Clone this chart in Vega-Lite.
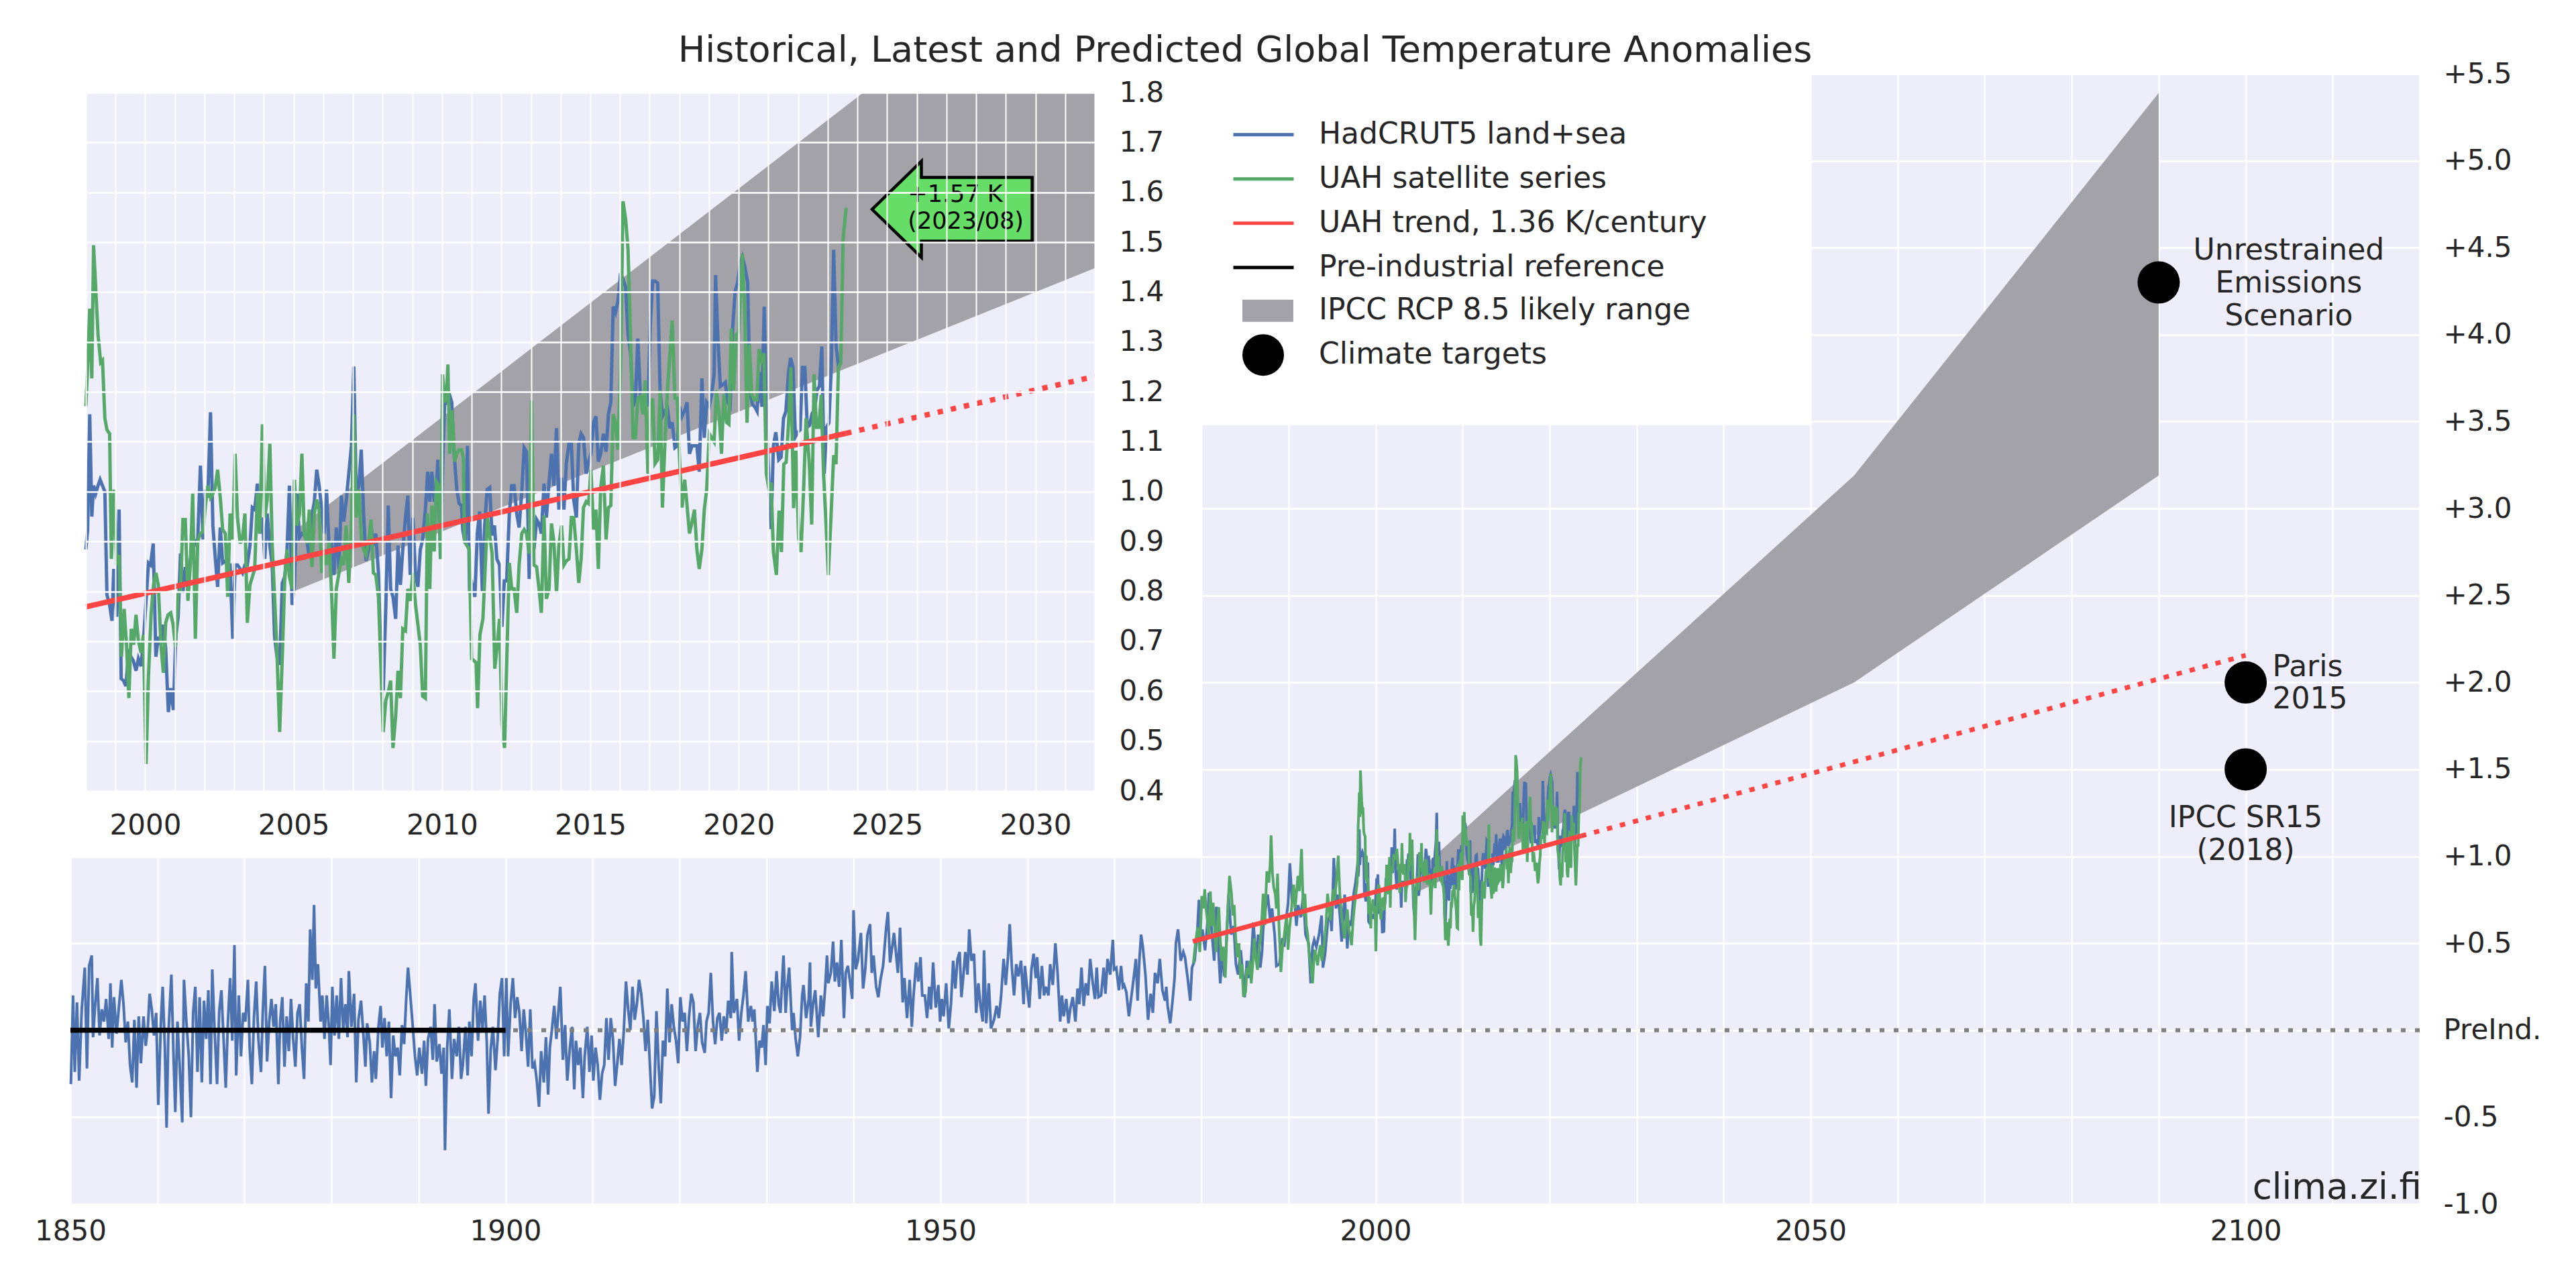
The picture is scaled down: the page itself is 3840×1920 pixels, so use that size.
{
"$schema":"https://vega.github.io/schema/vega-lite/v6.json",
"width":3502,"height":1685,
"autosize":{"type":"none"},
"padding":{"left":105,"top":110,"right":233,"bottom":125},
"background":"white",
"title":{"text":"Historical, Latest and Predicted Global Temperature Anomalies","fontSize":54,"font":"DejaVu Sans","fontWeight":"normal","color":"#262626","anchor":"middle","frame":"group","offset":0,"dy":57,"baseline":"alphabetic"},
"config":{
"view":{"fill":"#EEEEFB","stroke":null},
"font":"DejaVu Sans",
"axis":{"labelFont":"DejaVu Sans","labelFontSize":42,"labelColor":"#262626","domain":false,"ticks":false,"gridColor":"white","gridOpacity":1,"labelOverlap":false,"labelFlush":false}
},
"datasets":{
"had":[
{"t":1850.05,"v":-0.31},{"t":1850.3,"v":0.2},{"t":1850.5,"v":-0.24},{"t":1850.75,"v":0.16},
{"t":1851.0,"v":-0.29},{"t":1851.3,"v":0.12},{"t":1851.65,"v":0.36},{"t":1851.9,"v":-0.22},
{"t":1852.15,"v":0.37},{"t":1852.45,"v":0.43},{"t":1852.6,"v":-0.04},{"t":1852.85,"v":0.15},
{"t":1853.1,"v":0.3},{"t":1853.35,"v":-0.03},{"t":1853.6,"v":0.12},{"t":1853.85,"v":0.05},
{"t":1854.1,"v":0.18},{"t":1854.4,"v":-0.05},{"t":1854.6,"v":0.27},{"t":1854.8,"v":-0.1},
{"t":1855.0,"v":0.19},{"t":1855.3,"v":-0.02},{"t":1855.6,"v":0.15},{"t":1855.85,"v":0.29},
{"t":1856.1,"v":0.15},{"t":1856.35,"v":-0.07},{"t":1856.6,"v":0.05},{"t":1856.85,"v":-0.2},
{"t":1857.1,"v":-0.3},{"t":1857.35,"v":0.06},{"t":1857.6,"v":-0.33},{"t":1857.85,"v":0.08},
{"t":1858.1,"v":-0.19},{"t":1858.4,"v":0.08},{"t":1858.65,"v":-0.09},{"t":1858.9,"v":0.02},
{"t":1859.1,"v":0.21},{"t":1859.35,"v":0.12},{"t":1859.6,"v":-0.03},{"t":1859.85,"v":0.1},
{"t":1860.1,"v":-0.43},{"t":1860.4,"v":0.05},{"t":1860.6,"v":0.25},{"t":1860.85,"v":-0.1},
{"t":1861.05,"v":-0.56},{"t":1861.25,"v":-0.03},{"t":1861.6,"v":0.32},{"t":1861.85,"v":-0.15},
{"t":1862.05,"v":-0.47},{"t":1862.3,"v":0.05},{"t":1862.55,"v":-0.2},{"t":1862.85,"v":-0.53},
{"t":1863.05,"v":0.29},{"t":1863.3,"v":0.07},{"t":1863.6,"v":-0.15},{"t":1863.85,"v":-0.5},
{"t":1864.1,"v":0.1},{"t":1864.35,"v":0.25},{"t":1864.6,"v":-0.24},{"t":1864.85,"v":0.19},
{"t":1865.1,"v":-0.3},{"t":1865.35,"v":0.17},{"t":1865.6,"v":-0.05},{"t":1865.85,"v":0.23},
{"t":1866.1,"v":-0.31},{"t":1866.3,"v":0.35},{"t":1866.55,"v":0.02},{"t":1866.85,"v":-0.31},
{"t":1867.1,"v":0.11},{"t":1867.35,"v":0.23},{"t":1867.6,"v":-0.05},{"t":1867.85,"v":-0.33},
{"t":1868.1,"v":0.05},{"t":1868.35,"v":0.3},{"t":1868.6,"v":-0.06},{"t":1868.85,"v":0.49},
{"t":1869.05,"v":-0.26},{"t":1869.35,"v":0.2},{"t":1869.6,"v":-0.15},{"t":1869.85,"v":0.1},
{"t":1870.1,"v":0.05},{"t":1870.4,"v":0.29},{"t":1870.6,"v":-0.1},{"t":1870.85,"v":-0.31},
{"t":1871.1,"v":0.08},{"t":1871.35,"v":0.28},{"t":1871.6,"v":-0.05},{"t":1871.9,"v":-0.24},
{"t":1872.1,"v":0.1},{"t":1872.35,"v":0.37},{"t":1872.6,"v":-0.18},{"t":1872.85,"v":0.05},
{"t":1873.1,"v":0.18},{"t":1873.35,"v":0.02},{"t":1873.6,"v":0.15},{"t":1873.9,"v":-0.31},
{"t":1874.1,"v":0.05},{"t":1874.35,"v":0.19},{"t":1874.6,"v":-0.21},{"t":1874.85,"v":0.08},
{"t":1875.1,"v":-0.12},{"t":1875.35,"v":0.18},{"t":1875.6,"v":-0.05},{"t":1875.85,"v":-0.21},
{"t":1876.1,"v":0.1},{"t":1876.35,"v":0.15},{"t":1876.6,"v":-0.1},{"t":1876.85,"v":-0.28},
{"t":1877.1,"v":0.27},{"t":1877.35,"v":0.05},{"t":1877.55,"v":0.58},{"t":1877.8,"v":0.29},
{"t":1878.0,"v":0.72},{"t":1878.2,"v":0.24},{"t":1878.45,"v":0.38},{"t":1878.75,"v":0.05},{"t":1878.95,"v":0.2},
{"t":1879.2,"v":-0.05},{"t":1879.45,"v":0.2},{"t":1879.7,"v":0.02},{"t":1879.9,"v":-0.2},
{"t":1880.1,"v":0.25},{"t":1880.35,"v":-0.03},{"t":1880.6,"v":0.2},{"t":1880.85,"v":-0.05},
{"t":1881.1,"v":0.3},{"t":1881.35,"v":0.0},{"t":1881.6,"v":0.15},{"t":1881.85,"v":-0.04},
{"t":1882.0,"v":0.34},{"t":1882.3,"v":0.02},{"t":1882.6,"v":0.21},{"t":1882.85,"v":-0.3},
{"t":1883.1,"v":0.06},{"t":1883.4,"v":0.17},{"t":1883.7,"v":-0.05},{"t":1883.9,"v":-0.21},
{"t":1884.1,"v":0.04},{"t":1884.4,"v":-0.07},{"t":1884.65,"v":-0.3},{"t":1884.9,"v":-0.12},
{"t":1885.1,"v":-0.28},{"t":1885.4,"v":0.02},{"t":1885.65,"v":0.14},{"t":1885.85,"v":-0.1},
{"t":1886.1,"v":0.07},{"t":1886.35,"v":-0.15},{"t":1886.6,"v":0.05},{"t":1886.85,"v":-0.39},
{"t":1887.1,"v":-0.03},{"t":1887.35,"v":-0.15},{"t":1887.6,"v":-0.1},{"t":1887.85,"v":-0.26},
{"t":1888.1,"v":0.03},{"t":1888.35,"v":-0.08},{"t":1888.6,"v":0.19},{"t":1888.8,"v":0.36},
{"t":1889.0,"v":0.24},{"t":1889.3,"v":0.05},{"t":1889.6,"v":-0.15},{"t":1889.85,"v":-0.26},
{"t":1890.1,"v":-0.1},{"t":1890.4,"v":-0.25},{"t":1890.65,"v":-0.06},{"t":1890.85,"v":-0.32},
{"t":1891.1,"v":-0.05},{"t":1891.4,"v":0.02},{"t":1891.65,"v":-0.17},{"t":1891.85,"v":0.15},
{"t":1892.1,"v":-0.18},{"t":1892.4,"v":-0.08},{"t":1892.65,"v":-0.25},{"t":1892.9,"v":-0.1},
{"t":1893.05,"v":-0.69},{"t":1893.3,"v":-0.1},{"t":1893.55,"v":0.12},{"t":1893.85,"v":-0.28},
{"t":1894.1,"v":-0.05},{"t":1894.4,"v":-0.15},{"t":1894.65,"v":0.02},{"t":1894.9,"v":-0.28},
{"t":1895.1,"v":-0.2},{"t":1895.4,"v":0.02},{"t":1895.65,"v":-0.26},{"t":1895.85,"v":0.05},
{"t":1896.1,"v":-0.15},{"t":1896.35,"v":0.18},{"t":1896.55,"v":0.27},{"t":1896.85,"v":-0.06},
{"t":1897.1,"v":0.17},{"t":1897.35,"v":0.0},{"t":1897.6,"v":0.2},{"t":1897.85,"v":-0.07},
{"t":1898.05,"v":-0.48},{"t":1898.3,"v":-0.11},{"t":1898.55,"v":0.02},{"t":1898.85,"v":-0.23},
{"t":1899.1,"v":-0.05},{"t":1899.35,"v":0.21},{"t":1899.6,"v":0.3},{"t":1899.85,"v":-0.15},
{"t":1900.1,"v":0.3},{"t":1900.3,"v":-0.15},{"t":1900.6,"v":0.16},{"t":1900.85,"v":0.3},
{"t":1901.1,"v":0.07},{"t":1901.35,"v":0.19},{"t":1901.6,"v":0.1},{"t":1901.85,"v":-0.12},
{"t":1902.1,"v":0.12},{"t":1902.35,"v":-0.02},{"t":1902.6,"v":-0.21},{"t":1902.85,"v":0.12},
{"t":1903.1,"v":-0.22},{"t":1903.35,"v":-0.19},{"t":1903.6,"v":-0.29},{"t":1903.85,"v":-0.44},
{"t":1904.1,"v":-0.12},{"t":1904.4,"v":-0.3},{"t":1904.65,"v":-0.04},{"t":1904.9,"v":-0.37},
{"t":1905.1,"v":-0.1},{"t":1905.35,"v":0.01},{"t":1905.6,"v":0.14},{"t":1905.85,"v":-0.05},
{"t":1906.1,"v":0.12},{"t":1906.3,"v":0.25},{"t":1906.6,"v":-0.17},{"t":1906.85,"v":0.03},
{"t":1907.1,"v":-0.29},{"t":1907.4,"v":-0.1},{"t":1907.65,"v":0.02},{"t":1907.9,"v":-0.34},
{"t":1908.1,"v":-0.06},{"t":1908.35,"v":-0.2},{"t":1908.6,"v":-0.1},{"t":1908.9,"v":-0.39},
{"t":1909.1,"v":-0.15},{"t":1909.4,"v":0.02},{"t":1909.65,"v":-0.24},{"t":1909.9,"v":-0.03},
{"t":1910.1,"v":-0.29},{"t":1910.35,"v":-0.1},{"t":1910.6,"v":-0.2},{"t":1910.85,"v":-0.4},
{"t":1911.1,"v":-0.25},{"t":1911.35,"v":-0.2},{"t":1911.6,"v":0.07},{"t":1911.85,"v":-0.17},
{"t":1912.1,"v":0.07},{"t":1912.35,"v":-0.05},{"t":1912.6,"v":-0.32},{"t":1912.85,"v":-0.19},
{"t":1913.1,"v":-0.05},{"t":1913.35,"v":-0.2},{"t":1913.6,"v":0.0},{"t":1913.85,"v":0.28},
{"t":1914.1,"v":0.12},{"t":1914.35,"v":0.0},{"t":1914.6,"v":0.25},{"t":1914.85,"v":0.06},
{"t":1915.1,"v":0.15},{"t":1915.35,"v":0.29},{"t":1915.6,"v":0.21},{"t":1915.85,"v":0.07},
{"t":1916.1,"v":-0.12},{"t":1916.35,"v":0.06},{"t":1916.6,"v":-0.2},{"t":1916.85,"v":-0.45},
{"t":1917.1,"v":-0.38},{"t":1917.35,"v":0.11},{"t":1917.6,"v":-0.2},{"t":1917.85,"v":-0.42},
{"t":1918.1,"v":-0.06},{"t":1918.35,"v":-0.15},{"t":1918.6,"v":0.24},{"t":1918.85,"v":-0.07},
{"t":1919.1,"v":0.15},{"t":1919.35,"v":0.02},{"t":1919.6,"v":-0.06},{"t":1919.85,"v":-0.19},
{"t":1920.1,"v":0.19},{"t":1920.35,"v":0.05},{"t":1920.6,"v":0.1},{"t":1920.85,"v":-0.12},
{"t":1921.1,"v":0.08},{"t":1921.35,"v":0.21},{"t":1921.6,"v":0.16},{"t":1921.85,"v":-0.12},
{"t":1922.1,"v":0.03},{"t":1922.35,"v":0.1},{"t":1922.6,"v":-0.07},{"t":1922.9,"v":-0.13},
{"t":1923.1,"v":0.05},{"t":1923.35,"v":0.1},{"t":1923.6,"v":0.33},{"t":1923.85,"v":0.05},
{"t":1924.1,"v":-0.08},{"t":1924.35,"v":0.07},{"t":1924.6,"v":0.1},{"t":1924.85,"v":-0.06},
{"t":1925.1,"v":0.08},{"t":1925.35,"v":-0.02},{"t":1925.6,"v":0.17},{"t":1925.9,"v":0.07},
{"t":1926.0,"v":0.45},{"t":1926.25,"v":0.1},{"t":1926.6,"v":0.18},{"t":1926.85,"v":-0.06},
{"t":1927.1,"v":0.1},{"t":1927.35,"v":0.2},{"t":1927.6,"v":0.34},{"t":1927.9,"v":0.05},
{"t":1928.2,"v":0.14},{"t":1928.4,"v":0.05},{"t":1928.6,"v":0.12},{"t":1928.95,"v":-0.24},
{"t":1929.2,"v":-0.06},{"t":1929.45,"v":-0.1},{"t":1929.65,"v":0.03},{"t":1929.9,"v":-0.2},
{"t":1930.1,"v":0.14},{"t":1930.35,"v":0.04},{"t":1930.6,"v":0.28},{"t":1930.9,"v":0.11},
{"t":1931.15,"v":0.34},{"t":1931.4,"v":0.15},{"t":1931.6,"v":0.1},{"t":1931.95,"v":0.43},
{"t":1932.2,"v":0.1},{"t":1932.35,"v":0.23},{"t":1932.6,"v":0.36},{"t":1932.95,"v":0.0},
{"t":1933.1,"v":0.1},{"t":1933.35,"v":-0.05},{"t":1933.6,"v":-0.15},{"t":1933.85,"v":-0.04},
{"t":1934.1,"v":0.2},{"t":1934.25,"v":0.26},{"t":1934.55,"v":0.07},{"t":1934.85,"v":0.18},
{"t":1935.0,"v":0.39},{"t":1935.1,"v":0.02},{"t":1935.35,"v":0.15},{"t":1935.6,"v":0.23},{"t":1935.95,"v":-0.04},
{"t":1936.25,"v":0.2},{"t":1936.5,"v":0.08},{"t":1936.75,"v":0.25},{"t":1936.95,"v":0.43},
{"t":1937.1,"v":0.27},{"t":1937.4,"v":0.33},{"t":1937.65,"v":0.51},{"t":1937.85,"v":0.28},
{"t":1938.1,"v":0.39},{"t":1938.35,"v":0.25},{"t":1938.6,"v":0.52},{"t":1938.9,"v":0.07},
{"t":1939.1,"v":0.33},{"t":1939.35,"v":0.37},{"t":1939.6,"v":0.28},{"t":1939.85,"v":0.18},
{"t":1940.0,"v":0.69},{"t":1940.25,"v":0.35},{"t":1940.5,"v":0.4},{"t":1940.85,"v":0.56},
{"t":1941.1,"v":0.24},{"t":1941.35,"v":0.35},{"t":1941.6,"v":0.55},{"t":1941.9,"v":0.61},
{"t":1942.1,"v":0.33},{"t":1942.3,"v":0.43},{"t":1942.6,"v":0.25},{"t":1942.85,"v":0.19},
{"t":1943.1,"v":0.29},{"t":1943.4,"v":0.37},{"t":1943.75,"v":0.59},{"t":1943.95,"v":0.68},
{"t":1944.2,"v":0.39},{"t":1944.45,"v":0.48},{"t":1944.65,"v":0.56},{"t":1944.85,"v":0.46},
{"t":1945.1,"v":0.33},{"t":1945.35,"v":0.59},{"t":1945.65,"v":0.16},{"t":1945.85,"v":0.3},
{"t":1946.15,"v":0.07},{"t":1946.45,"v":0.29},{"t":1946.7,"v":0.02},{"t":1946.9,"v":0.2},
{"t":1947.2,"v":0.39},{"t":1947.45,"v":0.28},{"t":1947.7,"v":0.42},{"t":1947.9,"v":0.2},
{"t":1948.2,"v":0.2},{"t":1948.45,"v":0.07},{"t":1948.7,"v":0.25},{"t":1948.9,"v":0.12},
{"t":1949.15,"v":0.39},{"t":1949.45,"v":0.13},{"t":1949.75,"v":0.26},{"t":1949.95,"v":0.05},
{"t":1950.15,"v":0.18},{"t":1950.35,"v":0.08},{"t":1950.65,"v":0.27},{"t":1950.95,"v":0.01},
{"t":1951.2,"v":0.15},{"t":1951.45,"v":0.4},{"t":1951.7,"v":0.24},{"t":1951.95,"v":0.41},
{"t":1952.2,"v":0.45},{"t":1952.4,"v":0.19},{"t":1952.6,"v":0.3},{"t":1952.85,"v":0.45},
{"t":1953.1,"v":0.32},{"t":1953.3,"v":0.58},{"t":1953.55,"v":0.4},{"t":1953.85,"v":0.44},
{"t":1954.1,"v":0.1},{"t":1954.35,"v":0.27},{"t":1954.6,"v":0.14},{"t":1954.85,"v":0.05},
{"t":1955.0,"v":0.46},{"t":1955.25,"v":0.04},{"t":1955.55,"v":0.27},{"t":1955.8,"v":0.01},
{"t":1956.15,"v":0.06},{"t":1956.45,"v":0.14},{"t":1956.7,"v":0.07},{"t":1956.95,"v":0.19},
{"t":1957.25,"v":0.41},{"t":1957.5,"v":0.26},{"t":1957.75,"v":0.42},{"t":1957.95,"v":0.61},
{"t":1958.2,"v":0.36},{"t":1958.45,"v":0.2},{"t":1958.7,"v":0.38},{"t":1958.95,"v":0.31},
{"t":1959.25,"v":0.4},{"t":1959.55,"v":0.15},{"t":1959.7,"v":0.37},{"t":1959.95,"v":0.24},
{"t":1960.2,"v":0.13},{"t":1960.45,"v":0.35},{"t":1960.7,"v":0.44},{"t":1960.95,"v":0.3},
{"t":1961.1,"v":0.42},{"t":1961.4,"v":0.18},{"t":1961.65,"v":0.37},{"t":1961.9,"v":0.2},
{"t":1962.1,"v":0.25},{"t":1962.4,"v":0.2},{"t":1962.6,"v":0.38},{"t":1962.9,"v":0.26},
{"t":1963.2,"v":0.5},{"t":1963.45,"v":0.33},{"t":1963.75,"v":0.05},{"t":1963.95,"v":0.2},
{"t":1964.15,"v":0.08},{"t":1964.45,"v":0.18},{"t":1964.7,"v":0.04},{"t":1964.9,"v":0.12},
{"t":1965.2,"v":0.19},{"t":1965.5,"v":0.05},{"t":1965.75,"v":0.24},{"t":1965.95,"v":0.15},
{"t":1966.2,"v":0.36},{"t":1966.45,"v":0.14},{"t":1966.7,"v":0.27},{"t":1966.95,"v":0.2},
{"t":1967.2,"v":0.41},{"t":1967.5,"v":0.27},{"t":1967.75,"v":0.18},{"t":1967.95,"v":0.36},
{"t":1968.15,"v":0.19},{"t":1968.45,"v":0.2},{"t":1968.75,"v":0.36},{"t":1968.95,"v":0.21},
{"t":1969.2,"v":0.41},{"t":1969.5,"v":0.32},{"t":1969.8,"v":0.52},{"t":1969.95,"v":0.35},
{"t":1970.2,"v":0.36},{"t":1970.5,"v":0.23},{"t":1970.75,"v":0.37},{"t":1970.95,"v":0.25},
{"t":1971.1,"v":0.26},{"t":1971.35,"v":0.22},{"t":1971.65,"v":0.08},{"t":1971.9,"v":0.18},
{"t":1972.2,"v":0.3},{"t":1972.45,"v":0.41},{"t":1972.65,"v":0.17},{"t":1972.85,"v":0.4},
{"t":1973.05,"v":0.55},{"t":1973.25,"v":0.48},{"t":1973.55,"v":0.32},{"t":1973.85,"v":0.06},
{"t":1974.15,"v":0.21},{"t":1974.4,"v":0.1},{"t":1974.65,"v":0.33},{"t":1974.95,"v":0.27},
{"t":1975.2,"v":0.41},{"t":1975.5,"v":0.23},{"t":1975.8,"v":0.17},{"t":1975.95,"v":0.25},
{"t":1976.1,"v":0.14},{"t":1976.4,"v":0.04},{"t":1976.65,"v":0.16},{"t":1976.9,"v":0.3},
{"t":1977.05,"v":0.5},{"t":1977.3,"v":0.58},{"t":1977.6,"v":0.4},{"t":1977.9,"v":0.45},
{"t":1978.1,"v":0.42},{"t":1978.4,"v":0.3},{"t":1978.7,"v":0.17},{"t":1978.9,"v":0.36},
{"t":1979.2,"v":0.4},{"t":1979.5,"v":0.56},{"t":1979.7,"v":0.75},{"t":1979.9,"v":0.52},
{"t":1980.1,"v":0.58},{"t":1980.4,"v":0.46},{"t":1980.65,"v":0.6},{"t":1980.85,"v":0.79},
{"t":1981.15,"v":0.58},{"t":1981.45,"v":0.4},{"t":1981.7,"v":0.71},{"t":1981.95,"v":0.45},
{"t":1982.15,"v":0.27},{"t":1982.4,"v":0.48},{"t":1982.6,"v":0.31},{"t":1982.85,"v":0.5},
{"t":1983.1,"v":0.78},{"t":1983.4,"v":0.55},{"t":1983.7,"v":0.6},{"t":1983.95,"v":0.38},
{"t":1984.2,"v":0.32},{"t":1984.5,"v":0.46},{"t":1984.75,"v":0.32},{"t":1984.95,"v":0.19},
{"t":1985.2,"v":0.4},{"t":1985.45,"v":0.3},{"t":1985.7,"v":0.4},{"t":1985.95,"v":0.62},
{"t":1986.3,"v":0.39},{"t":1986.5,"v":0.55},{"t":1986.75,"v":0.36},{"t":1986.95,"v":0.45},
{"t":1987.1,"v":0.6},{"t":1987.4,"v":0.72},{"t":1987.6,"v":0.78},{"t":1987.9,"v":0.63},
{"t":1988.1,"v":0.7},{"t":1988.4,"v":0.55},{"t":1988.6,"v":0.37},{"t":1988.95,"v":0.38},
{"t":1989.3,"v":0.53},{"t":1989.5,"v":0.48},{"t":1989.75,"v":0.65},{"t":1989.95,"v":0.73},
{"t":1990.15,"v":0.96},{"t":1990.4,"v":0.74},{"t":1990.6,"v":0.81},{"t":1990.9,"v":0.6},
{"t":1991.1,"v":0.72},{"t":1991.4,"v":0.65},{"t":1991.7,"v":0.78},{"t":1991.95,"v":0.55},
{"t":1992.3,"v":0.5},{"t":1992.55,"v":0.27},{"t":1992.75,"v":0.48},{"t":1992.95,"v":0.52},
{"t":1993.2,"v":0.48},{"t":1993.5,"v":0.55},{"t":1993.8,"v":0.66},{"t":1993.95,"v":0.36},
{"t":1994.2,"v":0.44},{"t":1994.5,"v":0.62},{"t":1994.8,"v":0.67},{"t":1994.95,"v":0.57},
{"t":1995.2,"v":0.99},{"t":1995.45,"v":0.7},{"t":1995.7,"v":0.78},{"t":1995.9,"v":0.66},
{"t":1996.1,"v":0.51},{"t":1996.45,"v":0.78},{"t":1996.75,"v":0.47},{"t":1996.95,"v":0.63},
{"t":1997.2,"v":0.6},{"t":1997.5,"v":0.79},{"t":1997.7,"v":0.85},{"t":1997.95,"v":0.96},
{"t":1998.0,"v":0.884},{"t":1998.06,"v":0.924},{"t":1998.13,"v":1.155},{"t":1998.2,"v":0.95},{"t":1998.26,"v":1.012},{"t":1998.33,"v":0.996},{"t":1998.41,"v":1.012},{"t":1998.48,"v":1.024},{"t":1998.56,"v":1.012},{"t":1998.64,"v":1.0},{"t":1998.71,"v":0.793},{"t":1998.8,"v":0.773},{"t":1998.88,"v":0.741},{"t":1998.94,"v":0.845},
{"t":1999.04,"v":0.749},{"t":1999.12,"v":0.964},{"t":1999.19,"v":0.625},{"t":1999.27,"v":0.621},{"t":1999.35,"v":0.61},{"t":1999.44,"v":0.677},{"t":1999.52,"v":0.669},{"t":1999.6,"v":0.661},{"t":1999.69,"v":0.641},{"t":1999.77,"v":0.665},{"t":1999.86,"v":0.65},{"t":1999.95,"v":0.709},
{"t":2000.11,"v":0.857},{"t":2000.18,"v":0.853},{"t":2000.27,"v":0.896},{"t":2000.36,"v":0.669},{"t":2000.44,"v":0.709},{"t":2000.53,"v":0.693},{"t":2000.61,"v":0.733},{"t":2000.69,"v":0.685},{"t":2000.78,"v":0.558},{"t":2000.86,"v":0.606},{"t":2000.95,"v":0.562},
{"t":2001.03,"v":0.709},{"t":2001.11,"v":0.749},{"t":2001.19,"v":0.876},{"t":2001.27,"v":0.797},{"t":2001.35,"v":0.849},{"t":2001.44,"v":0.813},{"t":2001.52,"v":0.865},{"t":2001.61,"v":0.884},{"t":2001.69,"v":0.9},{"t":2001.77,"v":0.904},{"t":2001.86,"v":1.052},{"t":2001.95,"v":0.904},
{"t":2002.03,"v":1.004},{"t":2002.11,"v":0.988},{"t":2002.2,"v":1.159},{"t":2002.28,"v":0.932},{"t":2002.36,"v":0.868},{"t":2002.44,"v":0.809},{"t":2002.53,"v":0.928},{"t":2002.61,"v":0.857},{"t":2002.7,"v":0.861},{"t":2002.78,"v":0.853},{"t":2002.86,"v":0.853},{"t":2002.95,"v":0.705},
{"t":2003.03,"v":0.853},{"t":2003.11,"v":0.853},{"t":2003.2,"v":0.845},{"t":2003.28,"v":0.837},{"t":2003.36,"v":0.853},{"t":2003.44,"v":0.853},{"t":2003.53,"v":0.892},{"t":2003.61,"v":0.968},{"t":2003.69,"v":0.964},{"t":2003.78,"v":1.016},{"t":2003.86,"v":0.916},{"t":2003.95,"v":0.948},
{"t":2004.03,"v":0.865},{"t":2004.11,"v":0.956},{"t":2004.2,"v":0.892},{"t":2004.28,"v":0.853},{"t":2004.36,"v":0.709},{"t":2004.44,"v":0.669},{"t":2004.53,"v":0.653},{"t":2004.62,"v":0.817},{"t":2004.7,"v":0.829},{"t":2004.78,"v":0.884},{"t":2004.86,"v":1.012},{"t":2004.95,"v":0.773},
{"t":2005.03,"v":0.813},{"t":2005.11,"v":0.996},{"t":2005.2,"v":0.908},{"t":2005.28,"v":0.916},{"t":2005.37,"v":0.912},{"t":2005.45,"v":0.9},{"t":2005.53,"v":0.868},{"t":2005.62,"v":0.952},{"t":2005.7,"v":0.98},{"t":2005.78,"v":1.044},{"t":2005.86,"v":1.012},{"t":2005.95,"v":0.964},
{"t":2006.03,"v":0.916},{"t":2006.11,"v":1.004},{"t":2006.2,"v":0.884},{"t":2006.28,"v":0.892},{"t":2006.36,"v":0.833},{"t":2006.44,"v":0.928},{"t":2006.53,"v":0.845},{"t":2006.61,"v":0.992},{"t":2006.69,"v":0.94},{"t":2006.77,"v":0.98},{"t":2006.86,"v":1.036},{"t":2006.95,"v":1.092},
{"t":2007.03,"v":1.251},{"t":2007.11,"v":0.996},{"t":2007.2,"v":1.012},{"t":2007.28,"v":1.084},{"t":2007.36,"v":0.956},{"t":2007.44,"v":0.861},{"t":2007.53,"v":0.884},{"t":2007.61,"v":0.932},{"t":2007.69,"v":0.892},{"t":2007.77,"v":0.916},{"t":2007.86,"v":0.837},{"t":2007.94,"v":0.669},
{"t":2008.02,"v":0.598},{"t":2008.11,"v":0.773},{"t":2008.19,"v":0.972},{"t":2008.27,"v":0.805},{"t":2008.35,"v":0.789},{"t":2008.44,"v":0.745},{"t":2008.52,"v":0.892},{"t":2008.6,"v":0.813},{"t":2008.68,"v":0.884},{"t":2008.77,"v":0.948},{"t":2008.85,"v":0.992},{"t":2008.93,"v":0.833},
{"t":2009.02,"v":0.948},{"t":2009.11,"v":0.833},{"t":2009.19,"v":0.809},{"t":2009.27,"v":0.884},{"t":2009.35,"v":0.904},{"t":2009.44,"v":0.964},{"t":2009.52,"v":1.04},{"t":2009.59,"v":0.98},{"t":2009.66,"v":1.04},{"t":2009.74,"v":0.98},{"t":2009.81,"v":0.996},{"t":2009.86,"v":1.064},{"t":2009.95,"v":0.865},
{"t":2010.02,"v":1.044},{"t":2010.09,"v":1.175},{"t":2010.17,"v":1.179},{"t":2010.25,"v":1.195},{"t":2010.33,"v":1.179},{"t":2010.41,"v":1.076},{"t":2010.5,"v":1.004},{"t":2010.58,"v":0.976},{"t":2010.66,"v":0.972},{"t":2010.7,"v":0.924},{"t":2010.78,"v":0.896},{"t":2010.86,"v":1.092},{"t":2010.93,"v":0.797},
{"t":2011.02,"v":0.813},{"t":2011.11,"v":0.789},{"t":2011.19,"v":0.916},{"t":2011.27,"v":0.96},{"t":2011.36,"v":0.801},{"t":2011.44,"v":0.932},{"t":2011.52,"v":1.004},{"t":2011.61,"v":1.008},{"t":2011.69,"v":0.912},{"t":2011.77,"v":0.932},{"t":2011.85,"v":0.865},{"t":2011.94,"v":0.853},
{"t":2012.02,"v":0.729},{"t":2012.1,"v":0.821},{"t":2012.18,"v":0.821},{"t":2012.27,"v":0.956},{"t":2012.35,"v":1.012},{"t":2012.43,"v":1.012},{"t":2012.52,"v":0.956},{"t":2012.6,"v":0.928},{"t":2012.69,"v":1.0},{"t":2012.77,"v":1.088},{"t":2012.85,"v":1.08},{"t":2012.94,"v":0.825},
{"t":2013.02,"v":0.896},{"t":2013.1,"v":0.884},{"t":2013.19,"v":0.944},{"t":2013.27,"v":0.936},{"t":2013.35,"v":0.916},{"t":2013.44,"v":1.016},{"t":2013.52,"v":0.948},{"t":2013.61,"v":1.02},{"t":2013.69,"v":1.076},{"t":2013.77,"v":1.012},{"t":2013.86,"v":1.127},{"t":2013.94,"v":0.964},
{"t":2014.03,"v":1.028},{"t":2014.11,"v":0.964},{"t":2014.19,"v":1.056},{"t":2014.28,"v":1.096},{"t":2014.36,"v":1.096},{"t":2014.44,"v":0.984},{"t":2014.53,"v":0.948},{"t":2014.61,"v":1.096},{"t":2014.69,"v":1.116},{"t":2014.77,"v":1.108},{"t":2014.86,"v":1.036},{"t":2014.94,"v":1.06},
{"t":2015.02,"v":1.076},{"t":2015.11,"v":1.139},{"t":2015.19,"v":1.151},{"t":2015.27,"v":1.06},{"t":2015.35,"v":1.076},{"t":2015.44,"v":1.116},{"t":2015.53,"v":1.08},{"t":2015.61,"v":1.155},{"t":2015.69,"v":1.179},{"t":2015.77,"v":1.371},{"t":2015.85,"v":1.359},{"t":2015.93,"v":1.382},
{"t":2016.02,"v":1.438},{"t":2016.1,"v":1.426},{"t":2016.19,"v":1.41},{"t":2016.27,"v":1.315},{"t":2016.36,"v":1.275},{"t":2016.44,"v":1.171},{"t":2016.52,"v":1.187},{"t":2016.6,"v":1.307},{"t":2016.69,"v":1.191},{"t":2016.77,"v":1.179},{"t":2016.85,"v":1.187},{"t":2016.94,"v":1.171},
{"t":2017.02,"v":1.331},{"t":2017.1,"v":1.422},{"t":2017.18,"v":1.422},{"t":2017.27,"v":1.418},{"t":2017.35,"v":1.203},{"t":2017.43,"v":1.151},{"t":2017.52,"v":1.163},{"t":2017.6,"v":1.167},{"t":2017.68,"v":1.127},{"t":2017.76,"v":1.139},{"t":2017.85,"v":1.088},{"t":2017.93,"v":1.092},
{"t":2018.01,"v":1.171},{"t":2018.09,"v":1.151},{"t":2018.18,"v":1.163},{"t":2018.26,"v":1.179},{"t":2018.34,"v":1.076},{"t":2018.43,"v":1.092},{"t":2018.51,"v":1.092},{"t":2018.59,"v":1.092},{"t":2018.67,"v":1.04},{"t":2018.76,"v":1.227},{"t":2018.84,"v":1.108},{"t":2018.92,"v":1.179},
{"t":2019.01,"v":1.171},{"t":2019.09,"v":1.195},{"t":2019.17,"v":1.235},{"t":2019.22,"v":1.434},{"t":2019.3,"v":1.307},{"t":2019.38,"v":1.211},{"t":2019.47,"v":1.215},{"t":2019.55,"v":1.219},{"t":2019.63,"v":1.179},{"t":2019.71,"v":1.171},{"t":2019.8,"v":1.331},{"t":2019.88,"v":1.402},{"t":2019.96,"v":1.418},
{"t":2020.06,"v":1.462},{"t":2020.12,"v":1.471},{"t":2020.2,"v":1.453},{"t":2020.3,"v":1.42},{"t":2020.38,"v":1.203},{"t":2020.46,"v":1.175},{"t":2020.54,"v":1.17},{"t":2020.62,"v":1.161},{"t":2020.7,"v":1.24},{"t":2020.78,"v":1.17},{"t":2020.86,"v":1.371},{"t":2020.94,"v":1.147},
{"t":2021.02,"v":1.018},{"t":2021.09,"v":0.925},{"t":2021.17,"v":1.092},{"t":2021.25,"v":1.119},{"t":2021.35,"v":1.064},{"t":2021.43,"v":1.069},{"t":2021.51,"v":1.147},{"t":2021.59,"v":1.161},{"t":2021.68,"v":1.24},{"t":2021.75,"v":1.268},{"t":2021.83,"v":1.249},{"t":2021.91,"v":1.11},
{"t":2021.99,"v":1.119},{"t":2022.07,"v":1.124},{"t":2022.15,"v":1.249},{"t":2022.23,"v":1.249},{"t":2022.31,"v":1.129},{"t":2022.39,"v":1.133},{"t":2022.47,"v":1.156},{"t":2022.56,"v":1.166},{"t":2022.64,"v":1.203},{"t":2022.72,"v":1.212},{"t":2022.8,"v":1.291},{"t":2022.88,"v":1.036},{"t":2022.96,"v":1.129},
{"t":2023.04,"v":1.138},{"t":2023.12,"v":1.249},{"t":2023.2,"v":1.485},{"t":2023.28,"v":1.295},{"t":2023.36,"v":1.249},{"t":2023.44,"v":1.258}
],
"uah":[
{"t":1979.06,"v":0.386},{"t":1979.3,"v":0.5},{"t":1979.55,"v":0.592},{"t":1979.8,"v":0.45},{"t":1980.03,"v":0.772},{"t":1980.2,"v":0.7},{"t":1980.36,"v":0.811},{"t":1980.52,"v":0.695},{"t":1980.7,"v":0.62},{"t":1980.84,"v":0.528},
{"t":1981.01,"v":0.798},{"t":1981.18,"v":0.6},{"t":1981.33,"v":0.734},{"t":1981.5,"v":0.58},{"t":1981.66,"v":0.45},{"t":1981.82,"v":0.6},{"t":1981.98,"v":0.708},{"t":1982.15,"v":0.52},{"t":1982.31,"v":0.399},{"t":1982.5,"v":0.48},{"t":1982.73,"v":0.302},{"t":1982.95,"v":0.618},
{"t":1983.08,"v":0.75},{"t":1983.21,"v":0.888},{"t":1983.44,"v":0.785},{"t":1983.6,"v":0.66},{"t":1983.75,"v":0.72},{"t":1983.93,"v":0.528},{"t":1984.1,"v":0.42},{"t":1984.3,"v":0.5},{"t":1984.48,"v":0.296},{"t":1984.65,"v":0.38},{"t":1984.81,"v":0.193},
{"t":1985.06,"v":0.219},{"t":1985.22,"v":0.36},{"t":1985.39,"v":0.322},{"t":1985.55,"v":0.4},{"t":1985.71,"v":0.27},{"t":1985.88,"v":0.38},{"t":1986.04,"v":0.528},{"t":1986.22,"v":0.42},{"t":1986.43,"v":0.347},{"t":1986.62,"v":0.47},{"t":1986.85,"v":0.566},
{"t":1987.08,"v":0.785},{"t":1987.27,"v":0.605},{"t":1987.5,"v":0.914},{"t":1987.73,"v":0.849},{"t":1987.88,"v":0.95},{"t":1987.99,"v":1.12},{"t":1988.15,"v":0.9},{"t":1988.3,"v":0.82},{"t":1988.47,"v":0.785},{"t":1988.6,"v":0.7},{"t":1988.73,"v":0.901},{"t":1988.9,"v":0.6},
{"t":1989.12,"v":0.335},{"t":1989.3,"v":0.48},{"t":1989.45,"v":0.52},{"t":1989.61,"v":0.592},{"t":1989.78,"v":0.66},{"t":1989.94,"v":0.463},{"t":1990.1,"v":0.58},{"t":1990.26,"v":0.656},{"t":1990.42,"v":0.75},{"t":1990.58,"v":0.837},{"t":1990.75,"v":0.7},{"t":1990.9,"v":0.78},
{"t":1991.07,"v":0.888},{"t":1991.25,"v":0.8},{"t":1991.49,"v":1.042},{"t":1991.6,"v":0.85},{"t":1991.72,"v":0.656},{"t":1991.88,"v":0.785},{"t":1992.05,"v":0.6},{"t":1992.2,"v":0.55},{"t":1992.35,"v":0.45},{"t":1992.53,"v":0.386},{"t":1992.76,"v":0.27},{"t":1992.9,"v":0.4},
{"t":1993.02,"v":0.463},{"t":1993.18,"v":0.42},{"t":1993.34,"v":0.373},{"t":1993.5,"v":0.45},{"t":1993.67,"v":0.489},{"t":1993.83,"v":0.399},{"t":1994.0,"v":0.46},{"t":1994.16,"v":0.528},{"t":1994.32,"v":0.62},{"t":1994.48,"v":0.785},{"t":1994.65,"v":0.7},{"t":1994.81,"v":0.631},{"t":1994.97,"v":0.72},
{"t":1995.13,"v":0.811},{"t":1995.3,"v":0.75},{"t":1995.5,"v":0.86},{"t":1995.71,"v":1.004},{"t":1995.9,"v":0.78},{"t":1996.1,"v":0.656},{"t":1996.25,"v":0.6},{"t":1996.43,"v":0.528},{"t":1996.6,"v":0.62},{"t":1996.75,"v":0.695},{"t":1996.92,"v":0.58},
{"t":1997.08,"v":0.55},{"t":1997.24,"v":0.489},{"t":1997.4,"v":0.62},{"t":1997.56,"v":0.708},{"t":1997.72,"v":0.78},{"t":1997.89,"v":0.849},{"t":1997.96,"v":1.0},
{"t":1998.0,"v":1.171},{"t":1998.06,"v":1.251},{"t":1998.13,"v":1.367},{"t":1998.2,"v":1.227},{"t":1998.26,"v":1.494},{"t":1998.33,"v":1.41},{"t":1998.41,"v":1.315},{"t":1998.5,"v":1.259},{"t":1998.56,"v":1.263},{"t":1998.64,"v":1.147},{"t":1998.71,"v":1.124},{"t":1998.8,"v":1.116},{"t":1998.86,"v":0.865},{"t":1998.95,"v":1.004},
{"t":1999.04,"v":0.853},{"t":1999.12,"v":0.873},{"t":1999.2,"v":0.669},{"t":1999.29,"v":0.765},{"t":1999.37,"v":0.693},{"t":1999.45,"v":0.586},{"t":1999.53,"v":0.725},{"t":1999.61,"v":0.693},{"t":1999.69,"v":0.753},{"t":1999.77,"v":0.701},{"t":1999.86,"v":0.677},{"t":1999.94,"v":0.713},
{"t":2000.03,"v":0.454},{"t":2000.11,"v":0.63},{"t":2000.2,"v":0.757},{"t":2000.28,"v":0.813},{"t":2000.36,"v":0.837},{"t":2000.44,"v":0.813},{"t":2000.53,"v":0.693},{"t":2000.61,"v":0.637},{"t":2000.69,"v":0.737},{"t":2000.77,"v":0.753},{"t":2000.86,"v":0.757},{"t":2000.94,"v":0.733},
{"t":2001.02,"v":0.689},{"t":2001.11,"v":0.797},{"t":2001.19,"v":0.801},{"t":2001.27,"v":0.944},{"t":2001.35,"v":0.944},{"t":2001.44,"v":0.781},{"t":2001.52,"v":0.853},{"t":2001.6,"v":0.996},{"t":2001.69,"v":0.705},{"t":2001.77,"v":0.9},{"t":2001.86,"v":0.916},{"t":2001.95,"v":0.92},
{"t":2002.03,"v":0.972},{"t":2002.11,"v":1.012},{"t":2002.2,"v":0.988},{"t":2002.28,"v":0.996},{"t":2002.36,"v":1.008},{"t":2002.44,"v":1.044},{"t":2002.53,"v":0.988},{"t":2002.61,"v":0.924},{"t":2002.7,"v":0.916},{"t":2002.78,"v":0.789},{"t":2002.86,"v":0.956},{"t":2002.95,"v":0.904},
{"t":2003.03,"v":1.076},{"t":2003.11,"v":0.948},{"t":2003.2,"v":0.896},{"t":2003.28,"v":0.908},{"t":2003.36,"v":0.956},{"t":2003.44,"v":0.737},{"t":2003.53,"v":0.813},{"t":2003.61,"v":0.829},{"t":2003.69,"v":0.845},{"t":2003.78,"v":0.996},{"t":2003.86,"v":0.916},{"t":2003.95,"v":1.135},
{"t":2004.03,"v":0.948},{"t":2004.11,"v":0.984},{"t":2004.2,"v":1.096},{"t":2004.28,"v":0.892},{"t":2004.36,"v":0.789},{"t":2004.44,"v":0.677},{"t":2004.53,"v":0.518},{"t":2004.62,"v":0.669},{"t":2004.7,"v":0.821},{"t":2004.78,"v":0.884},{"t":2004.86,"v":0.829},{"t":2004.95,"v":0.805},
{"t":2005.03,"v":1.024},{"t":2005.11,"v":0.932},{"t":2005.2,"v":0.956},{"t":2005.28,"v":1.076},{"t":2005.36,"v":0.916},{"t":2005.45,"v":0.896},{"t":2005.53,"v":0.964},{"t":2005.62,"v":0.849},{"t":2005.7,"v":0.956},{"t":2005.78,"v":0.984},{"t":2005.86,"v":0.964},{"t":2005.95,"v":0.837},
{"t":2006.03,"v":0.884},{"t":2006.11,"v":0.853},{"t":2006.2,"v":0.9},{"t":2006.28,"v":0.797},{"t":2006.36,"v":0.665},{"t":2006.44,"v":0.805},{"t":2006.53,"v":0.837},{"t":2006.61,"v":0.865},{"t":2006.69,"v":0.853},{"t":2006.77,"v":0.932},{"t":2006.86,"v":0.817},{"t":2006.95,"v":0.932},
{"t":2007.03,"v":1.155},{"t":2007.11,"v":0.948},{"t":2007.2,"v":1.004},{"t":2007.28,"v":0.908},{"t":2007.36,"v":0.884},{"t":2007.44,"v":0.873},{"t":2007.53,"v":0.9},{"t":2007.61,"v":0.944},{"t":2007.69,"v":0.837},{"t":2007.77,"v":0.833},{"t":2007.86,"v":0.789},{"t":2007.94,"v":0.653},
{"t":2008.02,"v":0.518},{"t":2008.11,"v":0.582},{"t":2008.19,"v":0.598},{"t":2008.27,"v":0.621},{"t":2008.35,"v":0.486},{"t":2008.44,"v":0.55},{"t":2008.52,"v":0.641},{"t":2008.6,"v":0.586},{"t":2008.68,"v":0.725},{"t":2008.77,"v":0.721},{"t":2008.85,"v":0.805},{"t":2008.93,"v":0.781},
{"t":2009.02,"v":0.837},{"t":2009.11,"v":0.773},{"t":2009.19,"v":0.733},{"t":2009.27,"v":0.693},{"t":2009.35,"v":0.59},{"t":2009.44,"v":0.586},{"t":2009.51,"v":0.956},{"t":2009.59,"v":0.805},{"t":2009.66,"v":0.972},{"t":2009.74,"v":0.88},{"t":2009.81,"v":1.02},{"t":2009.89,"v":1.012},{"t":2009.96,"v":0.865},
{"t":2010.02,"v":1.235},{"t":2010.1,"v":1.179},{"t":2010.16,"v":1.203},{"t":2010.2,"v":1.255},{"t":2010.26,"v":1.076},{"t":2010.34,"v":1.163},{"t":2010.43,"v":1.06},{"t":2010.5,"v":1.076},{"t":2010.58,"v":1.084},{"t":2010.66,"v":1.084},{"t":2010.72,"v":1.068},{"t":2010.76,"v":0.9},{"t":2010.84,"v":0.892},{"t":2010.92,"v":0.884},
{"t":2011.0,"v":0.665},{"t":2011.08,"v":0.661},{"t":2011.15,"v":0.657},{"t":2011.2,"v":0.566},{"t":2011.28,"v":0.713},{"t":2011.38,"v":0.745},{"t":2011.45,"v":0.837},{"t":2011.53,"v":0.948},{"t":2011.61,"v":0.912},{"t":2011.69,"v":0.876},{"t":2011.78,"v":0.645},{"t":2011.85,"v":0.685},{"t":2011.94,"v":0.745},
{"t":2012.02,"v":0.534},{"t":2012.11,"v":0.486},{"t":2012.18,"v":0.653},{"t":2012.27,"v":0.857},{"t":2012.35,"v":0.805},{"t":2012.43,"v":0.805},{"t":2012.52,"v":0.757},{"t":2012.6,"v":0.853},{"t":2012.69,"v":0.916},{"t":2012.77,"v":0.924},{"t":2012.85,"v":0.916},{"t":2012.94,"v":0.876},
{"t":2013.02,"v":1.183},{"t":2013.1,"v":0.853},{"t":2013.19,"v":0.849},{"t":2013.27,"v":0.805},{"t":2013.35,"v":0.757},{"t":2013.44,"v":0.952},{"t":2013.52,"v":0.785},{"t":2013.61,"v":0.805},{"t":2013.69,"v":0.936},{"t":2013.77,"v":0.9},{"t":2013.86,"v":0.797},{"t":2013.94,"v":0.892},
{"t":2014.03,"v":0.932},{"t":2014.11,"v":0.853},{"t":2014.19,"v":0.861},{"t":2014.28,"v":0.865},{"t":2014.36,"v":0.948},{"t":2014.44,"v":0.948},{"t":2014.53,"v":0.884},{"t":2014.61,"v":0.817},{"t":2014.69,"v":0.865},{"t":2014.77,"v":0.968},{"t":2014.86,"v":0.98},{"t":2014.94,"v":0.976},
{"t":2015.02,"v":1.044},{"t":2015.11,"v":0.924},{"t":2015.19,"v":0.964},{"t":2015.27,"v":0.845},{"t":2015.35,"v":1.008},{"t":2015.44,"v":1.052},{"t":2015.53,"v":0.904},{"t":2015.61,"v":0.968},{"t":2015.69,"v":0.972},{"t":2015.77,"v":1.155},{"t":2015.85,"v":1.139},{"t":2015.93,"v":1.084},
{"t":2016.02,"v":1.251},{"t":2016.1,"v":1.582},{"t":2016.19,"v":1.546},{"t":2016.27,"v":1.486},{"t":2016.36,"v":1.299},{"t":2016.44,"v":1.108},{"t":2016.52,"v":1.108},{"t":2016.6,"v":1.187},{"t":2016.69,"v":1.191},{"t":2016.77,"v":1.155},{"t":2016.85,"v":1.223},{"t":2016.94,"v":1.036},
{"t":2017.02,"v":1.167},{"t":2017.1,"v":1.187},{"t":2017.18,"v":1.056},{"t":2017.27,"v":1.064},{"t":2017.35,"v":1.203},{"t":2017.43,"v":0.968},{"t":2017.52,"v":1.108},{"t":2017.6,"v":1.203},{"t":2017.68,"v":1.275},{"t":2017.76,"v":1.343},{"t":2017.85,"v":1.187},{"t":2017.93,"v":1.187},
{"t":2018.01,"v":1.06},{"t":2018.09,"v":0.968},{"t":2018.18,"v":1.024},{"t":2018.26,"v":0.972},{"t":2018.34,"v":0.916},{"t":2018.43,"v":0.94},{"t":2018.51,"v":0.964},{"t":2018.59,"v":0.884},{"t":2018.67,"v":0.845},{"t":2018.76,"v":0.884},{"t":2018.84,"v":0.964},{"t":2018.92,"v":1.004},
{"t":2019.01,"v":1.116},{"t":2019.09,"v":1.108},{"t":2019.17,"v":1.1},{"t":2019.25,"v":1.203},{"t":2019.34,"v":1.155},{"t":2019.42,"v":1.076},{"t":2019.5,"v":1.195},{"t":2019.59,"v":1.139},{"t":2019.67,"v":1.135},{"t":2019.75,"v":1.327},{"t":2019.83,"v":1.203},{"t":2019.92,"v":1.315},
{"t":2020.0,"v":1.319},{"t":2020.12,"v":1.476},{"t":2020.2,"v":1.369},{"t":2020.28,"v":1.138},{"t":2020.36,"v":1.295},{"t":2020.44,"v":1.194},{"t":2020.52,"v":1.184},{"t":2020.61,"v":1.184},{"t":2020.69,"v":1.286},{"t":2020.77,"v":1.263},{"t":2020.85,"v":1.277},{"t":2020.93,"v":1.036},
{"t":2021.01,"v":1.008},{"t":2021.09,"v":1.018},{"t":2021.17,"v":0.879},{"t":2021.27,"v":0.833},{"t":2021.36,"v":0.962},{"t":2021.44,"v":0.879},{"t":2021.52,"v":1.055},{"t":2021.6,"v":1.059},{"t":2021.68,"v":1.138},{"t":2021.76,"v":1.249},{"t":2021.85,"v":0.967},{"t":2021.93,"v":1.082},
{"t":2022.02,"v":0.906},{"t":2022.1,"v":0.879},{"t":2022.19,"v":1.008},{"t":2022.27,"v":1.147},{"t":2022.38,"v":1.055},{"t":2022.46,"v":0.934},{"t":2022.54,"v":1.235},{"t":2022.62,"v":1.129},{"t":2022.7,"v":1.129},{"t":2022.78,"v":1.194},{"t":2022.86,"v":1.036},{"t":2022.94,"v":0.939},
{"t":2023.02,"v":0.833},{"t":2023.12,"v":0.962},{"t":2023.2,"v":1.073},{"t":2023.28,"v":1.055},{"t":2023.36,"v":1.249},{"t":2023.44,"v":1.258},{"t":2023.52,"v":1.508},{"t":2023.62,"v":1.569}
],
"trend":[
{"seg":"fit","t":1979.0,"v":0.511},{"seg":"fit","t":1998.0,"v":0.769},{"seg":"fit","t":2023.62,"v":1.117},
{"seg":"ext","t":2023.62,"v":1.117},{"seg":"ext","t":2032.0,"v":1.231},{"seg":"ext","t":2100.0,"v":2.156}
],
"ipcc":[{"t":2005,"lo":0.8,"hi":0.92},{"t":2055,"lo":2.0,"hi":3.19},{"t":2090,"lo":3.19,"hi":5.39}],
"ipcc_inset":[{"t":2005,"lo":0.8,"hi":0.92},{"t":2024.2,"lo":1.261,"hi":1.8},{"t":2032,"lo":1.448,"hi":1.8}],
"targets":[
{"t":2090,"v":4.3,"label":["Unrestrained","Emissions","Scenario"]},
{"t":2100,"v":2.0,"label":["Paris","2015"]},
{"t":2100,"v":1.5,"label":["IPCC SR15","(2018)"]}
],
"ann":[{"t":2023.62,"v":1.57,"label":["+1.57 K","(2023/08)"]}],
"one":[{}]
},
"layer":[
{"data":{"name":"one"},"mark":{"type":"rect","color":"white"},
 "encoding":{
  "x":{"datum":1850,"type":"quantitative","scale":{"domain":[1850,2120],"nice":false,"zero":false},"axis":null},
  "x2":{"datum":1980},
  "y":{"datum":0.99,"type":"quantitative","scale":{"domain":[-1,5.5],"nice":false,"zero":false},"axis":null},
  "y2":{"datum":5.5}}},
{"data":{"name":"one"},"mark":{"type":"rect","color":"white"},
 "encoding":{
  "x":{"datum":1980,"type":"quantitative","scale":{"domain":[1850,2120],"nice":false,"zero":false},"axis":null},
  "x2":{"datum":2050},
  "y":{"datum":3.48,"type":"quantitative","scale":{"domain":[-1,5.5],"nice":false,"zero":false},"axis":null},
  "y2":{"datum":5.5}}},
{"data":{"name":"ipcc"},"mark":{"type":"area","opacity":1},
 "encoding":{
  "x":{"field":"t","type":"quantitative","scale":{"domain":[1850,2120],"nice":false,"zero":false},"axis":null},
  "y":{"field":"lo","type":"quantitative","scale":{"domain":[-1,5.5],"nice":false,"zero":false},"axis":null},
  "y2":{"field":"hi"},
  "fill":{"datum":"IPCC RCP 8.5 likely range","type":"nominal",
   "scale":{"domain":["IPCC RCP 8.5 likely range","Climate targets"],"range":["#A3A2A8","#000000"]},
   "legend":{"title":null,"orient":"none","legendX":1747,"legendY":320.4,"labelFontSize":44,"labelFont":"DejaVu Sans","labelColor":"#262626","labelLimit":2000,"labelOffset":52,"symbolSize":3844,"symbolStrokeWidth":0,"symbolOpacity":1,"clipHeight":65.6,"rowPadding":0,"padding":0}}}},
{"data":{"name":"had"},"mark":{"type":"line","strokeWidth":4},
 "encoding":{
  "x":{"field":"t","type":"quantitative","scale":{"domain":[1850,2120],"nice":false,"zero":false},
   "axis":{"orient":"bottom","title":null,"values":[1850,1860,1870,1880,1890,1900,1910,1920,1930,1940,1950,1960,1970,1980,1990,2000,2010,2020,2030,2040,2050,2060,2070,2080,2090,2100,2110,2120],"format":"d","labelExpr":"datum.value % 50 === 0 ? datum.label : ''","grid":true,"gridColor":"white","gridWidth":2.2,"labelPadding":20,"domain":false,"ticks":false,"labelFlush":false,"labelOverlap":false}},
  "y":{"field":"v","type":"quantitative","scale":{"domain":[-1,5.5],"nice":false,"zero":false},
   "axis":{"orient":"right","title":null,"values":[-1,-0.5,0,0.5,1,1.5,2,2.5,3,3.5,4,4.5,5,5.5],"labelExpr":"datum.value === 0 ? 'PreInd.' : (datum.value > 0 ? '+' + format(datum.value, '.1f') : '-' + format(-datum.value, '.1f'))","grid":true,"gridColor":"white","gridWidth":3,"labelAlign":"left","labelBaseline":"middle","labelPadding":35,"domain":false,"ticks":false,"labelOverlap":false}},
  "color":{"datum":"HadCRUT5 land+sea","type":"nominal",
   "scale":{"domain":["HadCRUT5 land+sea","UAH satellite series","UAH trend, 1.36 K/century","Pre-industrial reference"],"range":["#4C72B0","#55A868","#FF4444","#000000"]},
   "legend":{"title":null,"orient":"none","legendX":1731,"legendY":58,"labelFontSize":44,"labelFont":"DejaVu Sans","labelColor":"#262626","labelLimit":2000,"labelOffset":35,"symbolType":"stroke","symbolSize":8100,"symbolStrokeWidth":5,"symbolOpacity":1,"clipHeight":65.6,"rowPadding":0,"padding":0}}}},
{"data":{"name":"uah"},"mark":{"type":"line","strokeWidth":4},
 "encoding":{
  "x":{"field":"t","type":"quantitative","scale":{"domain":[1850,2120],"nice":false,"zero":false},"axis":null},
  "y":{"field":"v","type":"quantitative","scale":{"domain":[-1,5.5],"nice":false,"zero":false},"axis":null},
  "color":{"datum":"UAH satellite series","type":"nominal"}}},
{"data":{"name":"trend"},"transform":[{"filter":"datum.seg === 'fit'"}],"mark":{"type":"line","strokeWidth":7},
 "encoding":{
  "x":{"field":"t","type":"quantitative","scale":{"domain":[1850,2120],"nice":false,"zero":false},"axis":null},
  "y":{"field":"v","type":"quantitative","scale":{"domain":[-1,5.5],"nice":false,"zero":false},"axis":null},
  "color":{"datum":"UAH trend, 1.36 K/century","type":"nominal"}}},
{"data":{"name":"trend"},"transform":[{"filter":"datum.seg === 'ext'"}],"mark":{"type":"line","strokeWidth":7,"strokeDash":[8,12],"strokeCap":"butt"},
 "encoding":{
  "x":{"field":"t","type":"quantitative","scale":{"domain":[1850,2120],"nice":false,"zero":false},"axis":null},
  "y":{"field":"v","type":"quantitative","scale":{"domain":[-1,5.5],"nice":false,"zero":false},"axis":null},
  "color":{"datum":"UAH trend, 1.36 K/century","type":"nominal"}}},
{"data":{"name":"one"},"mark":{"type":"rule","color":"#808080","strokeWidth":6,"strokeDash":[7,14]},
 "encoding":{"y":{"datum":0,"type":"quantitative","scale":{"domain":[-1,5.5],"nice":false,"zero":false},"axis":null}}},
{"data":{"name":"one"},"mark":{"type":"rule","strokeWidth":7.5},
 "encoding":{
  "x":{"datum":1850,"type":"quantitative","scale":{"domain":[1850,2120],"nice":false,"zero":false},"axis":null},
  "x2":{"datum":1900},
  "y":{"datum":0,"type":"quantitative","scale":{"domain":[-1,5.5],"nice":false,"zero":false},"axis":null},
  "color":{"datum":"Pre-industrial reference","type":"nominal"}}},
{"data":{"name":"targets"},"mark":{"type":"point","filled":true,"size":3969,"opacity":1},
 "encoding":{
  "x":{"field":"t","type":"quantitative","scale":{"domain":[1850,2120],"nice":false,"zero":false},"axis":null},
  "y":{"field":"v","type":"quantitative","scale":{"domain":[-1,5.5],"nice":false,"zero":false},"axis":null},
  "fill":{"datum":"Climate targets","type":"nominal"},
  "shape":{"datum":"Climate targets","type":"nominal",
   "scale":{"domain":["IPCC RCP 8.5 likely range","Climate targets"],"range":["M -1.45 -0.53 L 1.45 -0.53 L 1.45 0.53 L -1.45 0.53 Z","circle"]},
   "legend":{"title":null,"orient":"none","legendX":1747,"legendY":320.4,"labelFontSize":44,"labelFont":"DejaVu Sans","labelColor":"#262626","labelLimit":2000,"labelOffset":52,"symbolSize":3844,"symbolStrokeWidth":0,"symbolOpacity":1,"clipHeight":65.6,"rowPadding":0,"padding":0}}}},
{"data":{"name":"targets"},"transform":[{"filter":"datum.v > 4"}],"mark":{"type":"text","align":"center","baseline":"middle","dx":194,"dy":-47,"fontSize":44,"lineHeight":49,"font":"DejaVu Sans","color":"#262626"},
 "encoding":{
  "x":{"field":"t","type":"quantitative","scale":{"domain":[1850,2120],"nice":false,"zero":false},"axis":null},
  "y":{"field":"v","type":"quantitative","scale":{"domain":[-1,5.5],"nice":false,"zero":false},"axis":null},
  "text":{"field":"label"}}},
{"data":{"name":"targets"},"transform":[{"filter":"datum.v > 1.8 && datum.v < 4"}],"mark":{"type":"text","align":"left","baseline":"middle","dx":40,"dy":-22,"fontSize":44,"lineHeight":48,"font":"DejaVu Sans","color":"#262626"},
 "encoding":{
  "x":{"field":"t","type":"quantitative","scale":{"domain":[1850,2120],"nice":false,"zero":false},"axis":null},
  "y":{"field":"v","type":"quantitative","scale":{"domain":[-1,5.5],"nice":false,"zero":false},"axis":null},
  "text":{"field":"label"}}},
{"data":{"name":"targets"},"transform":[{"filter":"datum.v < 1.8"}],"mark":{"type":"text","align":"center","baseline":"middle","dx":0,"dy":73,"fontSize":44,"lineHeight":49,"font":"DejaVu Sans","color":"#262626"},
 "encoding":{
  "x":{"field":"t","type":"quantitative","scale":{"domain":[1850,2120],"nice":false,"zero":false},"axis":null},
  "y":{"field":"v","type":"quantitative","scale":{"domain":[-1,5.5],"nice":false,"zero":false},"axis":null},
  "text":{"field":"label"}}},
{"data":{"name":"one"},"mark":{"type":"text","align":"right","baseline":"alphabetic","dx":3,"dy":-8,"fontSize":53,"font":"DejaVu Sans","color":"#262626","text":"clima.zi.fi"},
 "encoding":{
  "x":{"datum":2120,"type":"quantitative","scale":{"domain":[1850,2120],"nice":false,"zero":false},"axis":null},
  "y":{"datum":-1,"type":"quantitative","scale":{"domain":[-1,5.5],"nice":false,"zero":false},"axis":null}}},
{"data":{"name":"one"},"mark":{"type":"rect","color":"#EEEEFB"},
 "encoding":{
  "x":{"datum":1998,"type":"quantitative","scale":{"domain":[1998,2032],"range":[23,1527],"nice":false,"zero":false},"axis":null},
  "x2":{"datum":2032},
  "y":{"datum":0.4,"type":"quantitative","scale":{"domain":[0.4,1.8],"range":[1069,28],"nice":false,"zero":false},"axis":null},
  "y2":{"datum":1.8}}},
{"data":{"name":"ipcc_inset"},"mark":{"type":"area","color":"#A3A2A8","opacity":1},
 "encoding":{
  "x":{"field":"t","type":"quantitative","scale":{"domain":[1998,2032],"range":[23,1527],"nice":false,"zero":false},"axis":null},
  "y":{"field":"lo","type":"quantitative","scale":{"domain":[0.4,1.8],"range":[1069,28],"nice":false,"zero":false},"axis":null},
  "y2":{"field":"hi"}}},
{"data":{"name":"had"},"transform":[{"filter":"datum.t >= 1998"}],"mark":{"type":"line","strokeWidth":5,"color":"#4C72B0"},
 "encoding":{
  "x":{"field":"t","type":"quantitative","scale":{"domain":[1998,2032],"range":[23,1527],"nice":false,"zero":false},
   "axis":{"orient":"top","offset":-1069,"title":null,"values":[1998,1999,2000,2001,2002,2003,2004,2005,2006,2007,2008,2009,2010,2011,2012,2013,2014,2015,2016,2017,2018,2019,2020,2021,2022,2023,2024,2025,2026,2027,2028,2029,2030,2031,2032],"format":"d","labelExpr":"datum.value % 5 === 0 ? datum.label : ''","grid":true,"gridColor":"white","gridWidth":2,"labelBaseline":"top","labelPadding":-31,"zindex":1,"domain":false,"ticks":false,"labelFlush":false,"labelOverlap":false}},
  "y":{"field":"v","type":"quantitative","scale":{"domain":[0.4,1.8],"range":[1069,28],"nice":false,"zero":false},
   "axis":{"orient":"left","offset":-1527,"title":null,"values":[0.4,0.5,0.6,0.7,0.8,0.9,1.0,1.1,1.2,1.3,1.4,1.5,1.6,1.7,1.8],"format":".1f","grid":true,"gridColor":"white","gridWidth":2.5,"labelAlign":"left","labelBaseline":"middle","labelPadding":-36,"zindex":1,"domain":false,"ticks":false,"labelFlush":false,"labelOverlap":false}}}},
{"data":{"name":"uah"},"transform":[{"filter":"datum.t >= 1998"}],"mark":{"type":"line","strokeWidth":5,"color":"#55A868"},
 "encoding":{
  "x":{"field":"t","type":"quantitative","scale":{"domain":[1998,2032],"range":[23,1527],"nice":false,"zero":false},"axis":null},
  "y":{"field":"v","type":"quantitative","scale":{"domain":[0.4,1.8],"range":[1069,28],"nice":false,"zero":false},"axis":null}}},
{"data":{"name":"trend"},"transform":[{"filter":"datum.seg === 'fit' && datum.t >= 1998"}],"mark":{"type":"line","strokeWidth":8,"color":"#FF4444"},
 "encoding":{
  "x":{"field":"t","type":"quantitative","scale":{"domain":[1998,2032],"range":[23,1527],"nice":false,"zero":false},"axis":null},
  "y":{"field":"v","type":"quantitative","scale":{"domain":[0.4,1.8],"range":[1069,28],"nice":false,"zero":false},"axis":null}}},
{"data":{"name":"trend"},"transform":[{"filter":"datum.seg === 'ext' && datum.t <= 2032"}],"mark":{"type":"line","strokeWidth":8,"color":"#FF4444","strokeDash":[8,12],"strokeCap":"butt"},
 "encoding":{
  "x":{"field":"t","type":"quantitative","scale":{"domain":[1998,2032],"range":[23,1527],"nice":false,"zero":false},"axis":null},
  "y":{"field":"v","type":"quantitative","scale":{"domain":[0.4,1.8],"range":[1069,28],"nice":false,"zero":false},"axis":null}}},
{"data":{"name":"ann"},"mark":{"type":"point","shape":"M -1 0 L -0.384 -0.6 L -0.384 -0.398 L 1 -0.398 L 1 0.398 L -0.384 0.398 L -0.384 0.6 Z","size":56930,"filled":true,"fill":"#66DD66","stroke":"#000000","strokeWidth":4.5,"opacity":1,"xOffset":158,"yOffset":3},
 "encoding":{
  "x":{"field":"t","type":"quantitative","scale":{"domain":[1998,2032],"range":[23,1527],"nice":false,"zero":false},"axis":null},
  "y":{"field":"v","type":"quantitative","scale":{"domain":[0.4,1.8],"range":[1069,28],"nice":false,"zero":false},"axis":null}}},
{"data":{"name":"ann"},"mark":{"type":"text","align":"left","baseline":"middle","dx":92,"dy":-19,"fontSize":35,"lineHeight":40,"font":"DejaVu Sans","color":"#000000"},
 "encoding":{
  "x":{"field":"t","type":"quantitative","scale":{"domain":[1998,2032],"range":[23,1527],"nice":false,"zero":false},"axis":null},
  "y":{"field":"v","type":"quantitative","scale":{"domain":[0.4,1.8],"range":[1069,28],"nice":false,"zero":false},"axis":null},
  "text":{"field":"label"}}}
],
"resolve":{"scale":{"x":"independent","y":"independent"}}
}
